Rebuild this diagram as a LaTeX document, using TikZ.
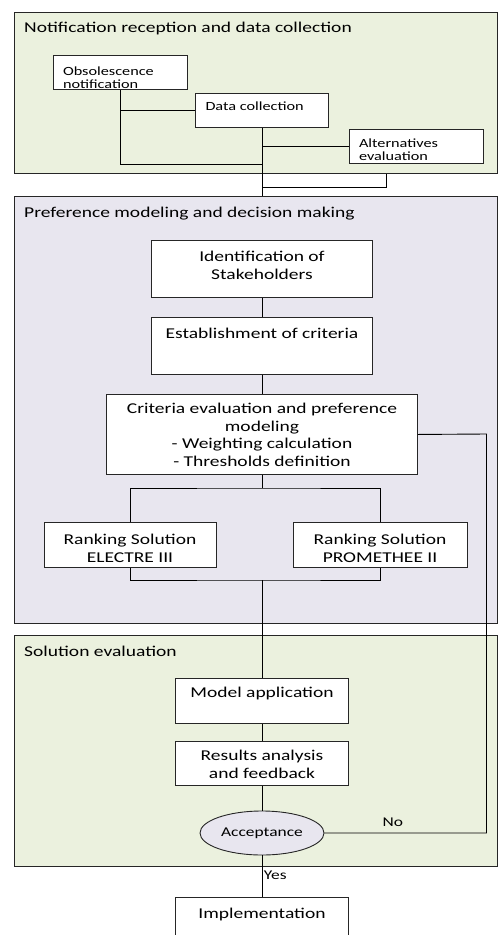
\documentclass[tikz,border=0pt]{standalone}
\usepackage{fontspec}
\setmainfont{Carlito}[FakeStretch=1.3]
\usetikzlibrary{shapes.geometric}
\definecolor{stagegreen}{RGB}{235,241,222}
\definecolor{stagelilac}{RGB}{232,230,239}
\newcommand{\mainsize}{\fontsize{15}{17.7}\selectfont}
\newcommand{\smallsize}{\fontsize{12.5}{13.5}\selectfont}
\newcommand{\notesize}{\fontsize{13.4}{16}\selectfont}
\newcommand{\boxlines}[2]{\parbox[t]{#1}{\centering #2}}
\newcommand{\boxleft}[2]{\parbox[t]{#1}{\raggedright #2}}

\begin{document}
\begin{tikzpicture}[x=1pt,y=-1pt]
\tikzset{stage/.style={draw=black!85, line width=1pt, inner sep=0pt, anchor=north west, minimum width=483pt}}
\tikzset{stagetitle/.style={anchor=base west, inner sep=0pt, font=\mainsize}}
\tikzset{stepbox/.style={draw=black!85, fill=white, line width=0.9pt, inner sep=0pt, anchor=north, font=\mainsize}}
\tikzset{smallbox/.style={stepbox, font=\smallsize}}
\tikzset{decision/.style={ellipse, draw=black!85, fill=stagelilac, line width=0.9pt, minimum width=124pt, minimum height=44pt, inner sep=0pt, font=\notesize}}
\tikzset{link/.style={draw=black, line width=0.9pt}}
\tikzset{answer/.style={anchor=base west, inner sep=0pt, font=\notesize}}
\useasboundingbox (0,0) rectangle (498,935);

\node[stage, fill=stagegreen, minimum height=161pt] (collect) at (14,12) {};
\node[stage, fill=stagelilac, minimum height=427pt] (decide) at (14,196) {};
\node[stage, fill=stagegreen, minimum height=231pt] (assess) at (14,635) {};
\node[stagetitle] (collecttitle) at (24,32) {Notification reception and data collection};
\node[stagetitle] (decidetitle) at (24,217) {Preference modeling and decision making};
\node[stagetitle] (assesstitle) at (24,656) {Solution evaluation};

\node[smallbox, minimum width=134pt, text height=20pt, text depth=14pt] (obs) at (120,55) {\boxleft{114pt}{Obsolescence\\notification}};
\node[smallbox, minimum width=133pt, text height=17pt, text depth=17pt] (data) at (262,93) {\boxleft{113pt}{Data collection}};
\node[smallbox, minimum width=134pt, text height=18pt, text depth=16pt] (alt) at (416,129) {\boxleft{114pt}{Alternatives\\evaluation}};

\node[stepbox, minimum width=221pt, text height=21pt, text depth=36pt] (ident) at (262,240) {\boxlines{215pt}{Identification of\\Stakeholders}};
\node[stepbox, minimum width=221pt, text height=21pt, text depth=36pt] (estab) at (262,317) {\boxlines{215pt}{Establishment of criteria}};
\node[stepbox, minimum width=311pt, text height=19pt, text depth=61pt] (crit) at (262,394) {\boxlines{305pt}{Criteria evaluation and preference\\modeling\\- Weighting calculation\\- Thresholds definition}};
\node[stepbox, minimum width=172pt, text height=22pt, text depth=23pt] (electre) at (130,522) {\boxlines{166pt}{Ranking Solution\\ELECTRE III}};
\node[stepbox, minimum width=174pt, text height=22pt, text depth=23pt] (promethee) at (380,522) {\boxlines{168pt}{Ranking Solution\\PROMETHEE II}};
\node[stepbox, minimum width=173pt, text height=19pt, text depth=26pt] (model) at (262,678) {\boxlines{167pt}{Model application}};
\node[stepbox, minimum width=173pt, text height=19pt, text depth=25pt] (results) at (262,741) {\boxlines{167pt}{Results analysis\\and feedback}};
\node[decision] (accept) at (262,833) {Acceptance};
\node[stepbox, minimum width=173pt, text height=21pt, text depth=25pt] (impl) at (262,897) {\boxlines{167pt}{Implementation}};

\coordinate (obsjoin) at (262,164);
\coordinate (altdrop) at (386,187);
\coordinate (split) at (262,488);
\coordinate (merge) at (262,580);
\coordinate (loop) at (486.5,434);

\draw[link] (data.south) -- (data.south |- decide.north);
\draw[link] (obs.south) |- (obsjoin);
\draw[link] (obs.south |- data.west) -- (data.west);
\draw[link] (data.south |- alt.west) -- (alt.west);
\draw[link] (collect.south -| altdrop) |- (data.south |- altdrop);
\draw[link] (ident) -- (estab);
\draw[link] (estab) -- (crit);
\draw[link] (crit.south) -- (split);
\draw[link] (electre.north) |- (split) -| (promethee.north);
\draw[link] (electre.south) |- (merge) -| (promethee.south);
\draw[link] (merge) -- (model.north);
\draw[link] (model) -- (results);
\draw[link] (results) -- (accept);
\draw[link] (accept) -- node[answer, pos=0.57, xshift=1.5pt] {Yes} (impl);
\draw[link] (accept.east) -- node[answer, pos=0.356, yshift=7pt] {No} (accept.east -| loop) -- (loop) -- (crit.east);
\end{tikzpicture}
\end{document}
